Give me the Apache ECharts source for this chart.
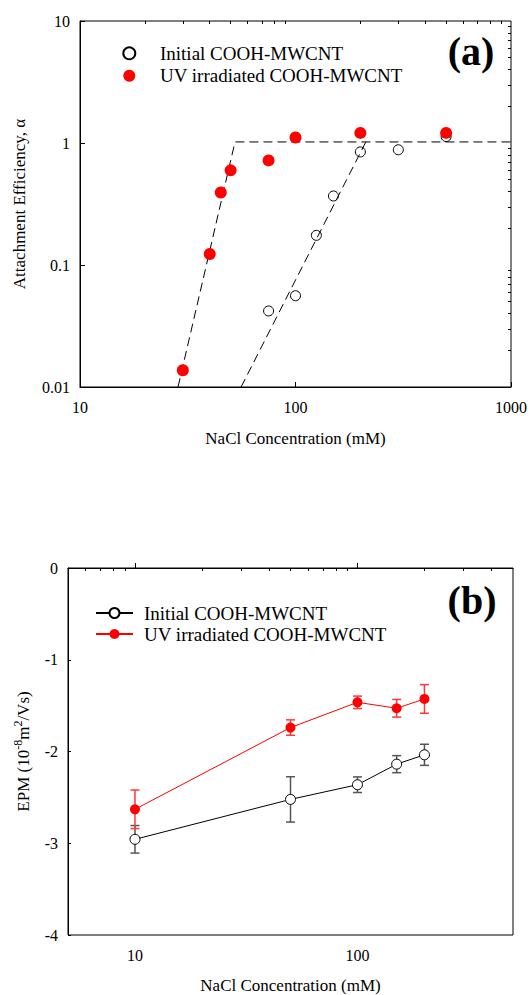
<!DOCTYPE html>
<html>
<head>
<meta charset="utf-8" />
<script src="https://cdn.jsdelivr.net/npm/echarts@6/dist/echarts.min.js"></script>
<style>
    html, body { margin: 0; background: #fff; }
    #chart { width: 531px; height: 995px; }
</style>
</head>
<body>
<div id="chart"></div>
<script>
// panel (a): attachment efficiency
const initialNaCl = [75, 100, 125, 150, 200, 300, 500]
const initialAlpha = [0.042, 0.056, 0.175, 0.368, 0.845, 0.88, 1.13]
const uvNaCl = [30, 40, 45, 50, 75, 100, 200, 500]
const uvAlpha = [0.0137, 0.123, 0.393, 0.597, 0.72, 1.11, 1.21, 1.21]

// dashed fit lines
const initialFitNaCl = [55.9, 212]
const initialFitAlpha = [0.01, 1.02]
const uvFitNaCl = [28.5, 52.4, 1000]
const uvFitAlpha = [0.01, 1.02, 1.02]

// panel (b): EPM
const epmNaCl = [10, 50, 100, 150, 200]
const initialEpm = [-2.957, -2.522, -2.362, -2.138, -2.036]
const initialEpmErr = [0.15, 0.247, 0.085, 0.093, 0.115]
const uvEpm = [-2.63, -1.739, -1.464, -1.529, -1.427]
const uvEpmErr = [0.21, 0.084, 0.068, 0.096, 0.156]

// ticks
const xMajorA = [10, 100, 1000]
const xMinorA = [20, 30, 40, 50, 60, 70, 80, 90, 200, 300, 400, 500, 600, 700, 800, 900]
const yMajorA = [0.01, 0.1, 1, 10]
const yMinorA = [0.02, 0.03, 0.04, 0.05, 0.06, 0.07, 0.08, 0.09, 0.2, 0.3, 0.4, 0.5, 0.6, 0.7, 0.8, 0.9, 2, 3, 4, 5, 6, 7, 8, 9]
const xMajorB = [10, 100]
const xMinorB = [6, 7, 8, 9, 20, 30, 40, 50, 60, 70, 80, 90, 200, 300, 400]

const labelsA = {
    "a-initial": "Initial COOH-MWCNT",
    "a-uv": "UV irradiated COOH-MWCNT",
}
const labelsB = {
    "b-initial": "Initial COOH-MWCNT",
    "b-uv": "UV irradiated COOH-MWCNT",
}

const serif = "'Liberation Serif', 'Times New Roman', serif"
const black = "#000"
const red = "#ff0000"

const pair = (xs, ys) => xs.map((x, i) => [x, ys[i]])

const minorAxis = (gridIndex, type, min, max, values) => ({
    gridIndex: gridIndex,
    type: type,
    min: min,
    max: max,
    axisLine: { show: false },
    axisTick: { show: true, inside: true, length: 3, customValues: values, lineStyle: { color: black } },
    axisLabel: { show: false },
    splitLine: { show: false },
})

const errorBars = (values, errs, color) => ({
    type: "custom",
    xAxisIndex: 2,
    yAxisIndex: 2,
    silent: true,
    z: 1,
    data: epmNaCl.map((x, i) => [x, values[i] - errs[i], values[i] + errs[i]]),
    encode: { x: 0, y: [1, 2] },
    renderItem: (params, api) => {
        const lo = api.coord([api.value(0), api.value(1)])
        const hi = api.coord([api.value(0), api.value(2)])
        const cap = 4.5
        const style = { stroke: color, lineWidth: 1.5 }
        return {
            type: "group",
            children: [
                { type: "line", shape: { x1: lo[0], y1: lo[1], x2: hi[0], y2: hi[1] }, style: style },
                { type: "line", shape: { x1: lo[0] - cap, y1: lo[1], x2: lo[0] + cap, y2: lo[1] }, style: style },
                { type: "line", shape: { x1: hi[0] - cap, y1: hi[1], x2: hi[0] + cap, y2: hi[1] }, style: style },
            ],
        }
    },
})

const axisName = { fontFamily: serif, fontSize: 17, color: black }
const tickLabel = { fontFamily: serif, fontSize: 16, color: black }
const legendRich = { t: { fontFamily: serif, fontSize: 19, color: black } }

const option = {
    animation: false,
    backgroundColor: "#fff",
    textStyle: { fontFamily: serif },
    grid: [
        { left: 80, right: 20, top: 21, height: 366, show: true, borderColor: black, borderWidth: 1 },
        { left: 68, right: 18, top: 568, height: 368, show: true, borderColor: black, borderWidth: 1 },
    ],
    xAxis: [
        {
            gridIndex: 0,
            type: "log",
            logBase: 10,
            min: 10,
            max: 1000,
            name: "NaCl Concentration (mM)",
            nameLocation: "middle",
            nameGap: 43,
            nameTextStyle: axisName,
            axisLine: { lineStyle: { color: black } },
            axisTick: { inside: true, length: 5, customValues: xMajorA, lineStyle: { color: black } },
            axisLabel: Object.assign({ margin: 12, customValues: xMajorA, formatter: (v) => String(v) }, tickLabel),
            splitLine: { show: false },
        },
        minorAxis(0, "log", 10, 1000, xMinorA),
        {
            gridIndex: 1,
            type: "log",
            logBase: 10,
            min: 5,
            max: 500,
            name: "NaCl Concentration (mM)",
            nameLocation: "middle",
            nameGap: 42,
            nameTextStyle: axisName,
            axisLine: { lineStyle: { color: black } },
            axisTick: { inside: true, length: 5, customValues: xMajorB, lineStyle: { color: black } },
            axisLabel: Object.assign({ margin: 12, customValues: xMajorB, formatter: (v) => String(v) }, tickLabel),
            splitLine: { show: false },
        },
        minorAxis(1, "log", 5, 500, xMinorB),
    ],
    yAxis: [
        {
            gridIndex: 0,
            type: "log",
            logBase: 10,
            min: 0.01,
            max: 10,
            name: "Attachment Efficiency, α",
            nameLocation: "middle",
            nameGap: 52,
            nameTextStyle: axisName,
            axisLine: { lineStyle: { color: black } },
            axisTick: { inside: true, length: 5, customValues: yMajorA, lineStyle: { color: black } },
            axisLabel: Object.assign({ margin: 10, customValues: yMajorA, formatter: (v) => String(v) }, tickLabel),
            splitLine: { show: false },
        },
        minorAxis(0, "log", 0.01, 10, yMinorA),
        {
            gridIndex: 1,
            type: "value",
            min: -4,
            max: 0,
            interval: 1,
            name: "{m|EPM (10}{s|-8}{m|m}{s|2}{m|/Vs)}",
            nameLocation: "middle",
            nameGap: 34,
            nameTextStyle: {
                rich: {
                    m: { fontFamily: serif, fontSize: 17, color: black, lineHeight: 22 },
                    s: { fontFamily: serif, fontSize: 12, color: black, verticalAlign: "top" },
                },
            },
            axisLine: { lineStyle: { color: black } },
            axisTick: { inside: true, length: 3, lineStyle: { color: black } },
            axisLabel: Object.assign({ margin: 10 }, tickLabel),
            splitLine: { show: false },
        },
    ],
    legend: [
        {
            orient: "vertical",
            left: 122.3,
            top: 43.8,
            padding: 0,
            itemGap: 3.4,
            itemWidth: 12,
            itemHeight: 12,
            data: ["a-initial", "a-uv"],
            formatter: (name) => "{t|" + labelsA[name] + "}",
            textStyle: { fontFamily: serif, fontSize: 19, color: black, padding: [0, 0, 0, 19.7], rich: legendRich },
        },
        {
            orient: "vertical",
            left: 95,
            top: 603.5,
            padding: 0,
            itemGap: 2,
            itemWidth: 37,
            itemHeight: 12.5,
            data: ["b-initial", "b-uv"],
            formatter: (name) => "{t|" + labelsB[name] + "}",
            textStyle: { fontFamily: serif, fontSize: 19, color: black, padding: [0, 0, 0, 6], rich: legendRich },
        },
    ],
    graphic: [
        {
            type: "text",
            x: 471,
            y: 51,
            style: { text: "(a)", fontFamily: serif, fontSize: 40, fontWeight: "bold", fill: black, align: "center", verticalAlign: "middle" },
        },
        {
            type: "text",
            x: 472,
            y: 600,
            style: { text: "(b)", fontFamily: serif, fontSize: 40, fontWeight: "bold", fill: black, align: "center", verticalAlign: "middle" },
        },
    ],
    series: [
        {
            name: "a-initial",
            type: "scatter",
            xAxisIndex: 0,
            yAxisIndex: 0,
            z: 2,
            symbol: "circle",
            symbolSize: 10,
            itemStyle: { color: "rgba(255,255,255,0)", borderColor: black, borderWidth: 1, opacity: 1 },
            data: pair(initialNaCl, initialAlpha),
        },
        {
            name: "fit-initial",
            type: "line",
            xAxisIndex: 0,
            yAxisIndex: 0,
            z: 3,
            silent: true,
            symbol: "none",
            lineStyle: { color: black, width: 1, type: [9, 5] },
            data: pair(initialFitNaCl, initialFitAlpha),
        },
        {
            name: "fit-uv",
            type: "line",
            xAxisIndex: 0,
            yAxisIndex: 0,
            z: 3,
            silent: true,
            symbol: "none",
            lineStyle: { color: black, width: 1, type: [9, 5] },
            data: pair(uvFitNaCl, uvFitAlpha),
        },
        {
            name: "a-uv",
            type: "scatter",
            xAxisIndex: 0,
            yAxisIndex: 0,
            z: 4,
            symbol: "circle",
            symbolSize: 12,
            itemStyle: { color: red, opacity: 1 },
            data: pair(uvNaCl, uvAlpha),
        },
        errorBars(initialEpm, initialEpmErr, "#555"),
        errorBars(uvEpm, uvEpmErr, "#ff3838"),
        {
            name: "b-initial",
            type: "line",
            xAxisIndex: 2,
            yAxisIndex: 2,
            z: 3,
            symbol: "circle",
            symbolSize: 10,
            showAllSymbol: true,
            lineStyle: { color: black, width: 1 },
            itemStyle: { color: "#fff", borderColor: black, borderWidth: 1 },
            data: pair(epmNaCl, initialEpm),
        },
        {
            name: "b-uv",
            type: "line",
            xAxisIndex: 2,
            yAxisIndex: 2,
            z: 3,
            symbol: "circle",
            symbolSize: 10,
            showAllSymbol: true,
            lineStyle: { color: red, width: 1 },
            itemStyle: { color: red },
            data: pair(epmNaCl, uvEpm),
        },
    ],
}

const chart = echarts.init(document.getElementById("chart"), null, { renderer: "svg" })
chart.setOption(option)
</script>
</body>
</html>
